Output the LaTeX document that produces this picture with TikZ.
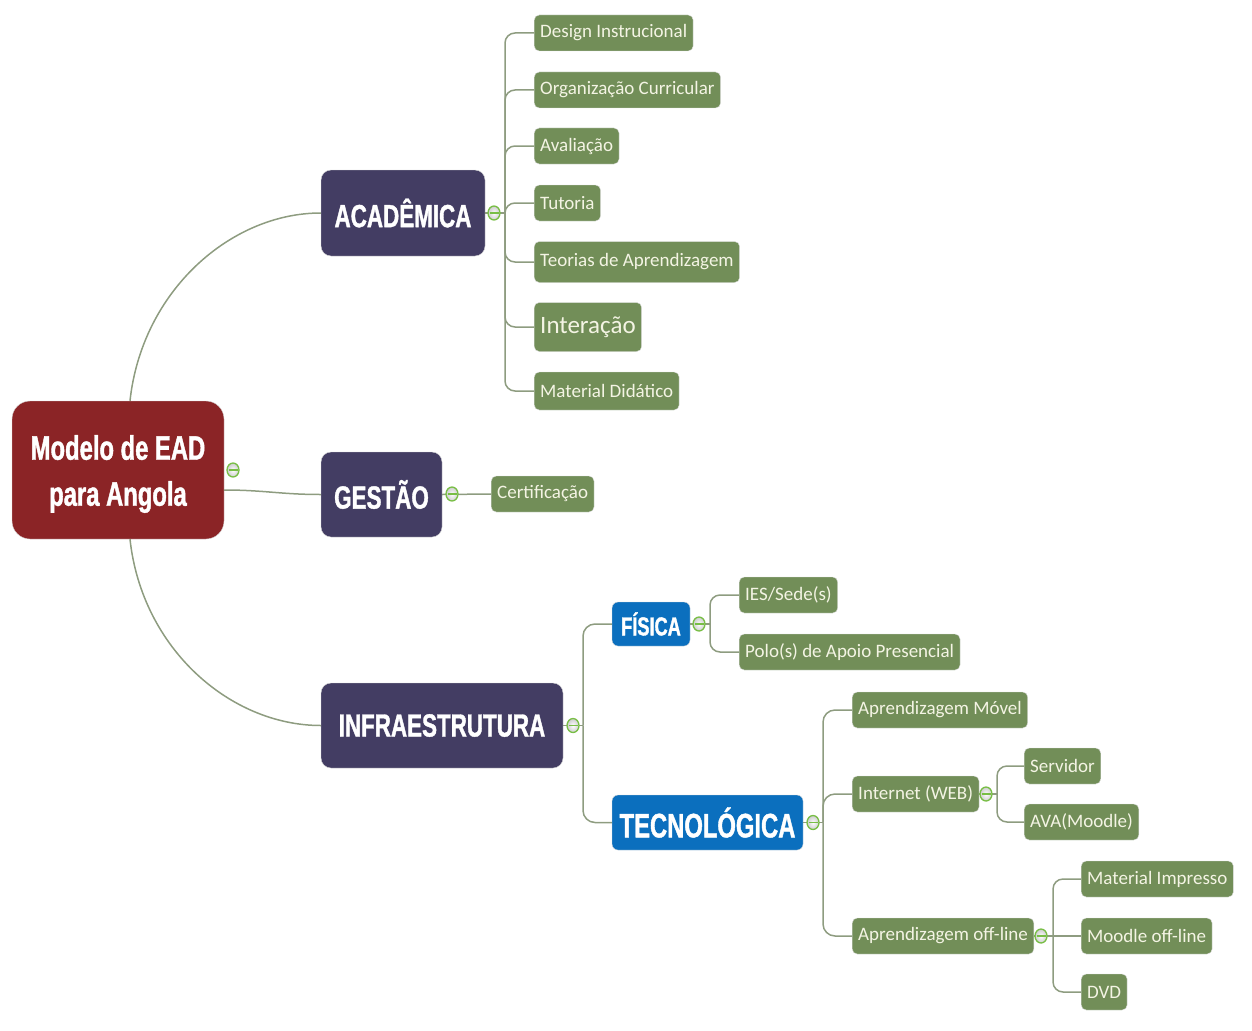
\documentclass[tikz,border=0pt]{standalone}
\usepackage{fontspec}
\setmainfont{Carlito}
\newfontfamily\bigf[FakeStretch=0.7,FakeBold=1.2]{Liberation Sans Bold}
\usetikzlibrary{calc,shapes.geometric,shadings}
\definecolor{rootc}{HTML}{8B2426}
\definecolor{purp}{HTML}{433D63}
\definecolor{blu}{HTML}{0B6FBE}
\definecolor{grn}{HTML}{728E58}
\definecolor{leaftxt}{HTML}{F4F4E4}
\definecolor{connc}{HTML}{8E9C80}
\definecolor{mkc}{HTML}{78BE45}
\begin{document}
\begin{tikzpicture}[x=1pt,y=-1pt,
  rootbox/.style={fill=rootc, draw=black!15, rounded corners=18pt, inner sep=0pt},
  roottxt/.style={text=white, align=center, inner sep=0pt, font=\bigf\fontsize{34}{46}\selectfont},
  mainbox/.style={fill=purp, draw=black!15, rounded corners=10pt, text=white, inner sep=0pt,
    font=\bigf\fontsize{32}{36}\selectfont},
  subbox/.style={fill=blu, draw=black!15, rounded corners=6pt, text=white, inner sep=0pt},
  leaf/.style={fill=grn, draw=black!12, rounded corners=5pt, text=leaftxt, anchor=west, inner xsep=6pt, inner ysep=0pt,
    minimum height=36pt, font=\fontsize{19}{22}\selectfont},
  conn/.style={draw=connc, line width=1.5pt},
  mk/.style={ellipse, draw=mkc, line width=1.3pt, inner sep=0pt, minimum width=12pt, minimum height=14pt,
    inner color=white, outer color=black!20,
    path picture={\draw[mkc, line width=1.3pt] ([xshift=-4.5pt]path picture bounding box.center) -- ([xshift=4.5pt]path picture bounding box.center);}}
]
\useasboundingbox (0,0) rectangle (1252,1030);

% main nodes
\node[rootbox, minimum width=212pt, minimum height=138pt] (root) at (118,470) {};
\node[roottxt] (rootlbl) at ([yshift=-4pt]root.center) {Modelo de EAD\\para Angola};
\node[mainbox, minimum width=164pt, minimum height=86pt] (acad) at (403,213) {ACADÊMICA};
\node[mainbox, minimum width=121pt, minimum height=85pt] (gest) at (381.5,494.5) {GESTÃO};
\node[mainbox, minimum width=242pt, minimum height=85pt] (infra) at (442,725.5) {INFRAESTRUTURA};
\node[subbox, minimum width=78pt, minimum height=44pt, font=\bigf\fontsize{26}{30}\selectfont] (fis) at (651,624) {FÍSICA};
\node[subbox, minimum width=191pt, minimum height=55pt, font=\bigf\fontsize{34}{38}\selectfont] (tec) at (707.5,822.5) {TECNOLÓGICA};

% leaves: academica
\node[leaf] (di) at (534,33) {Design Instrucional};
\node[leaf] (oc) at (534,90) {Organização Curricular};
\node[leaf] (av) at (534,146) {Avaliação};
\node[leaf] (tu) at (534,203) {Tutoria};
\node[leaf, minimum height=41pt] (ta) at (534,262) {Teorias de Aprendizagem};
\node[leaf, minimum height=49pt, font=\fontsize{25}{28}\selectfont] (ia) at (534,327) {Interação};
\node[leaf, minimum height=38pt] (md) at (534,391) {Material Didático};
% gestao
\node[leaf] (cert) at (491,494) {Certificação};
% fisica
\node[leaf] (ies) at (739,595) {IES/Sede(s)};
\node[leaf] (polo) at (739,652) {Polo(s) de Apoio Presencial};
% tecnologica
\node[leaf] (amov) at (852,710) {Aprendizagem Móvel};
\node[leaf] (web) at (852,794) {Internet (WEB)};
\node[leaf] (aoff) at (852,936) {Aprendizagem off-line};
\node[leaf] (serv) at (1024,766) {Servidor};
\node[leaf] (ava) at (1024,822) {AVA(Moodle)};
\node[leaf] (mimp) at (1081,879) {Material Impresso};
\node[leaf] (moff) at (1081,936) {Moodle off-line};
\node[leaf] (dvd) at (1081,992) {DVD};

% trunk points
\coordinate (tA) at (505,213);
\coordinate (tI) at (583,725.5);
\coordinate (tF) at (710,624);
\coordinate (tT) at (823,822.5);
\coordinate (tW) at (997,794);
\coordinate (tO) at (1053,936);

% root connectors
\draw[conn] ([xshift=12pt]root.north) .. controls +(12,-110) and +(-90,0) .. (acad.west);
\draw[conn] ([xshift=12pt]root.south) .. controls +(12,110) and +(-90,0) .. (infra.west);
\draw[conn] ([yshift=-20pt]root.east) .. controls +(40,0) and +(-40,0) .. (gest.west);

% academica
\draw[conn] (acad.east) -- (tA);
\foreach \n in {di,oc,av,tu,ta,ia,md} \draw[conn, rounded corners=10pt] (tA) |- (\n.west);
% gestao
\draw[conn] (gest.east) -- (cert.west);
% infra
\draw[conn] (infra.east) -- (tI);
\foreach \n in {fis,tec} \draw[conn, rounded corners=12pt] (tI) |- (\n.west);
% fisica
\draw[conn] (fis.east) -- (tF);
\foreach \n in {ies,polo} \draw[conn, rounded corners=10pt] (tF) |- (\n.west);
% tecnologica
\draw[conn] (tec.east) -- (tT);
\foreach \n in {amov,web,aoff} \draw[conn, rounded corners=12pt] (tT) |- (\n.west);
% internet
\draw[conn] (web.east) -- (tW);
\foreach \n in {serv,ava} \draw[conn, rounded corners=10pt] (tW) |- (\n.west);
% off-line
\draw[conn] (aoff.east) -- (tO);
\draw[conn] (tO) -- (moff.west);
\foreach \n in {mimp,dvd} \draw[conn, rounded corners=10pt] (tO) |- (\n.west);

% collapse markers
\node[mk] (mR) at (233,470) {};
\node[mk] (mA) at (494,213) {};
\node[mk] (mG) at (452,494) {};
\node[mk] (mI) at (573,725.5) {};
\node[mk] (mF) at (699,624) {};
\node[mk] (mT) at (813,822.5) {};
\node[mk] (mW) at (986,794) {};
\node[mk] (mO) at (1041,936) {};
\end{tikzpicture}
\end{document}
